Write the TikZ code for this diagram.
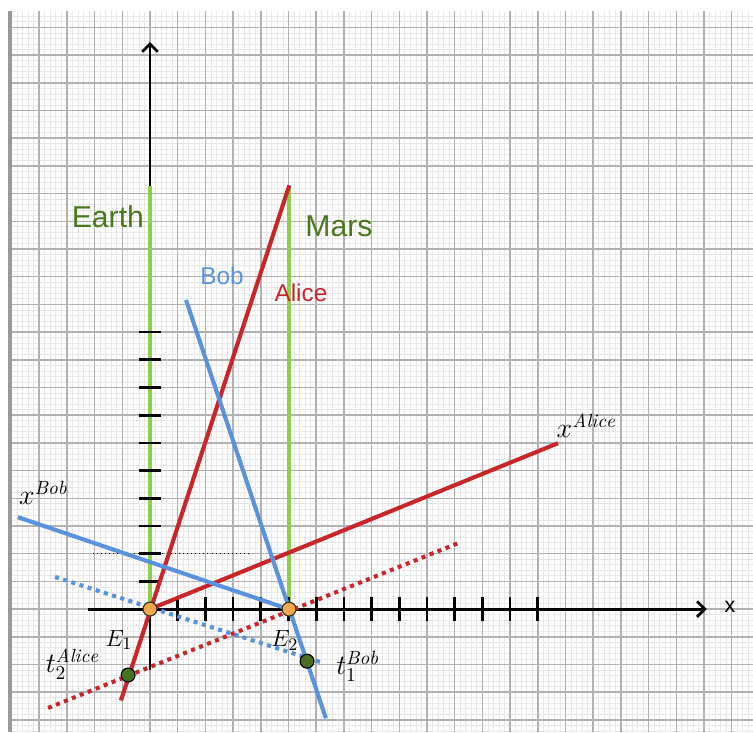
\documentclass[tikz,border=0pt]{standalone}
\usepackage{fontspec}
\setsansfont{Liberation Sans}
\usetikzlibrary{arrows.meta}
\definecolor{alicered}{RGB}{200,38,42}
\definecolor{bobblue}{RGB}{90,146,222}
\definecolor{planetgreen}{RGB}{142,208,72}
\definecolor{namegreen}{RGB}{74,120,30}
\definecolor{eventorange}{RGB}{242,168,72}
\definecolor{dotgreen}{RGB}{72,112,32}
\tikzset{
  minorgrid/.style={draw=black!9, line width=0.4pt},
  majorgrid/.style={draw=black!30, line width=0.75pt},
  axis/.style={line width=1.5pt, -{Straight Barb[length=4pt,width=8pt,line width=1.4pt]}},
  tick/.style={line width=1.4pt},
  worldline/.style={line width=2.1pt},
  lightline/.style={line width=2.1pt, dash pattern=on 2.1pt off 2.3pt},
  planet/.style={planetgreen, line width=2.1pt},
  event/.style={circle, draw=black!80, fill=eventorange, line width=0.6pt, minimum size=0.5cm*0.5, inner sep=0pt},
  tevent/.style={circle, draw=black, fill=dotgreen, line width=0.6pt, minimum size=0.5cm*0.5, inner sep=0pt},
  bigname/.style={font=\sffamily\fontsize{15.5}{17}\selectfont, text=namegreen},
  smallname/.style={font=\sffamily\fontsize{12.5}{14}\selectfont},
}
\begin{document}
\begin{tikzpicture}[x=0.5cm,y=0.5cm]
\useasboundingbox (-5.415,-4.44) rectangle (21.77,21.99);
% graph paper
\foreach \k in {-25,...,108} {
\draw[minorgrid] (\k/5,-4.44) -- (\k/5,21.59);
}
\foreach \k in {-22,...,107} {
\draw[minorgrid] (-5,\k/5) -- (21.77,\k/5);
}
\foreach \x in {-5,...,21} {
\draw[majorgrid] (\x,-4.44) -- (\x,21.59);
}
\foreach \y in {-4,...,21} {
\draw[majorgrid] (-5,\y) -- (21.77,\y);
}
\fill[black!40] (-5.13,-4.44) rectangle (-4.98,21.59);

\coordinate (E1) at (0,0);
\coordinate (E2) at (5,0);

% axes
\coordinate (xstart) at (-2.24,0);
\coordinate (xend) at (20.1,0);
\coordinate (tstart) at (0,-2.2);
\coordinate (tend) at (0,20.47);
\draw[axis] (xstart) -- (xend);
\draw[axis] (tstart) -- (tend);
\node[font=\sffamily\fontsize{11}{13}\selectfont] (xlabel) at (20.94,0.07) {x};

% Earth and Mars
\coordinate (earthtop) at (0,15.27);
\coordinate (marstop) at (5.02,15.27);
\draw[planet] (E1) -- (earthtop);
\draw[planet] (5.02,0) -- (marstop);
\node[bigname] (earth) at (-1.52,14.15) {Earth};
\node[bigname] (mars) at (6.82,13.83) {Mars};

% ticks
\foreach \x in {1,...,14} {
\draw[tick] (\x,-0.42) -- (\x,0.42);
}
\foreach \y in {1,...,10} {
\draw[tick] (-0.4,\y) -- (0.4,\y);
}
\coordinate (simleft) at (-2.06,2.02);
\coordinate (simright) at (3.6,2.02);
\draw[line width=0.5pt, dash pattern=on 0.5pt off 1.6pt] (simleft) -- (simright);

% Alice
\coordinate (alicelow) at (-1.05,-3.3);
\coordinate (alicehigh) at (5.03,15.3);
\coordinate (xalice) at (14.73,5.99);
\coordinate (alicedotA) at (-3.68,-3.57);
\coordinate (alicedotB) at (11.12,2.38);
\draw[worldline, alicered] (alicelow) -- (alicehigh);
\draw[worldline, alicered] (E1) -- (xalice);
\draw[lightline, alicered] (alicedotA) -- (alicedotB);
\node[smallname, text=alicered] (alice) at (5.45,11.41) {Alice};
\node[font=\fontsize{14}{16}\selectfont] (xalicelabel) at (15.75,6.62) {$x^{\mathit{Alice}}$};

% Bob
\coordinate (bobhigh) at (1.3,11.16);
\coordinate (boblow) at (6.35,-3.94);
\coordinate (xbob) at (-4.77,3.32);
\coordinate (bobdotA) at (-3.43,1.16);
\coordinate (bobdotB) at (6.14,-1.91);
\draw[worldline, bobblue] (bobhigh) -- (boblow);
\draw[worldline, bobblue] (xbob) -- (E2);
\draw[lightline, bobblue] (bobdotA) -- (bobdotB);
\node[smallname, text=bobblue] (bob) at (2.6,12.02) {Bob};
\node[font=\fontsize{14}{16}\selectfont] (xboblabel) at (-3.85,4.2) {$x^{\mathit{Bob}}$};

% events
\node[event] (e1) at (E1) {};
\node[event] (e2) at (5.02,0) {};
\node[tevent] (t2) at (-0.79,-2.38) {};
\node[tevent] (t1) at (5.67,-1.88) {};
\node[font=\fontsize{13}{15}\selectfont] (e1label) at (-1.12,-1.12) {$E_1$};
\node[font=\fontsize{13}{15}\selectfont] (e2label) at (4.87,-1.14) {$E_2$};
\node[font=\fontsize{14}{16}\selectfont] (t2label) at (-2.8,-2.0) {$t_2^{\mathit{Alice}}$};
\node[font=\fontsize{14}{16}\selectfont] (t1label) at (7.5,-2.08) {$t_1^{\mathit{Bob}}$};
\end{tikzpicture}
\end{document}
